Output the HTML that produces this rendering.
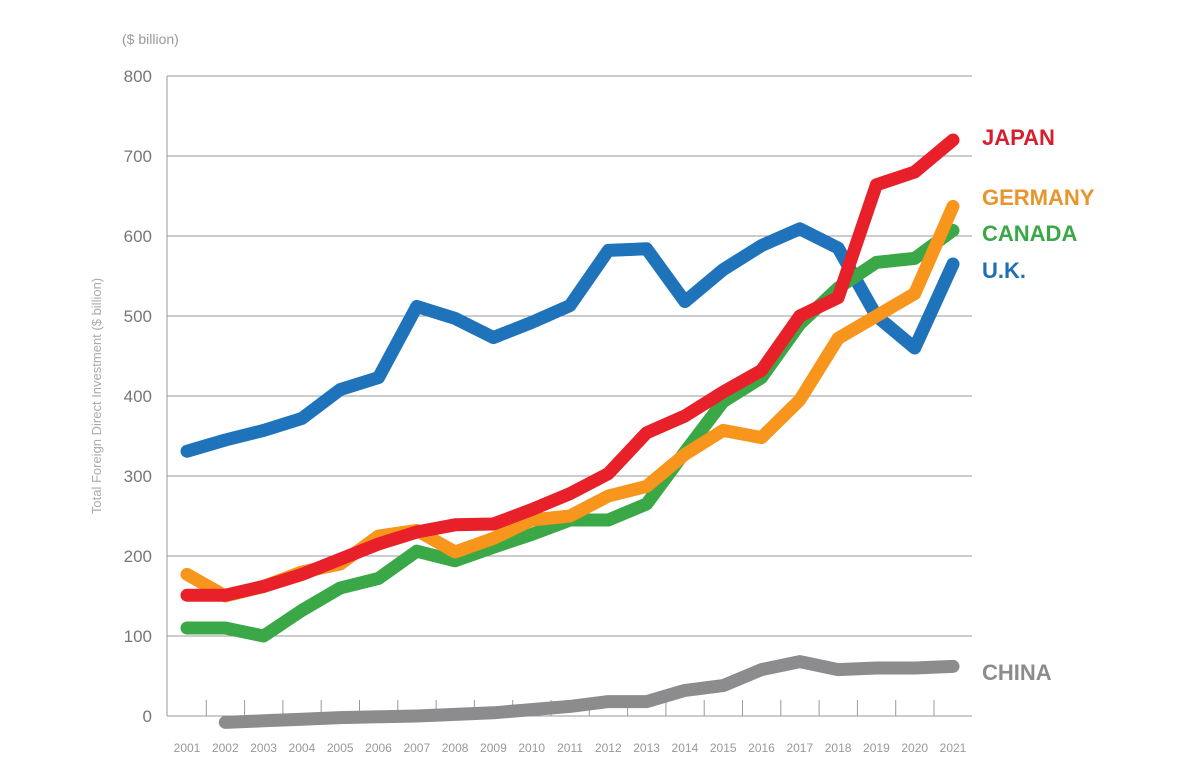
<!DOCTYPE html>
<html><head><meta charset="utf-8"><style>
body{margin:0;background:#fff;width:1200px;height:780px;overflow:hidden}
svg{display:block;font-family:"Liberation Sans",sans-serif}
</style></head><body>
<svg id="chart" width="1200" height="780">
<text x="122" y="44" font-size="14" fill="#999">($ billion)</text>
<text transform="translate(101,396) rotate(-90)" text-anchor="middle" font-size="13" fill="#aaa">Total Foreign Direct Investment ($ billion)</text>
<g id="grid"></g><g id="series"></g><g id="labels"></g>
</svg>
<script>
const years=[2001,2002,2003,2004,2005,2006,2007,2008,2009,2010,2011,2012,2013,2014,2015,2016,2017,2018,2019,2020,2021];
const yTicks=[0,100,200,300,400,500,600,700,800];
const uk=[331,345,357,372,408,423,512,497,473,492,513,582,584,518,558,588,609,585,500,460,565];
const canada=[110,110,100,132,160,172,206,194,211,227,245,245,265,330,393,423,490,535,567,572,607];
const germany=[177,150,162,180,190,225,232,205,222,245,250,275,287,327,357,348,395,472,500,528,637];
const japan=[151,151,162,177,196,215,230,239,240,258,278,303,354,375,405,432,500,523,664,680,720];
const china=[null,-8,-6,-4,-2,-1,0,2,4,8,12,18,18,32,38,58,68,58,60,60,62];
const NS="http://www.w3.org/2000/svg";
const x=i=>187+i*38.3;
const y=v=>716-0.8*v;
function mk(t,a,p){const e=document.createElementNS(NS,t);for(const k in a)e.setAttribute(k,a[k]);p.appendChild(e);return e;}
const grid=document.getElementById('grid');
yTicks.forEach(v=>{
 const l=mk('line',{x1:167,x2:972,y1:y(v),y2:y(v),stroke:'#999','stroke-width':1},grid);
 
 
 const t=mk('text',{x:152,y:y(v)+6,'text-anchor':'end','font-size':17,fill:'#777'},grid);
 t.textContent=v;
 
 
});
const ax=mk('line',{x1:167,x2:167,y1:y(800),y2:y(0),stroke:'#999','stroke-width':1},grid);


years.forEach((yr,i)=>{
 if(i>0){const tk=mk('line',{x1:x(i)-19,x2:x(i)-19,y1:700,y2:716,stroke:'#999','stroke-width':1},grid);
 
 }
 const t=mk('text',{x:x(i),y:752,'text-anchor':'middle','font-size':12,fill:'#999'},grid);
 t.textContent=yr;
 
 
});
const ser=document.getElementById('series');
function line(d,c,name){
 const pts=d.map((v,i)=>v===null?null:x(i)+','+y(v)).filter(p=>p);
 const p=mk('polyline',{points:pts.join(' '),fill:'none',stroke:c,'stroke-width':13,'stroke-linecap':'round','stroke-linejoin':'round'},ser);
 
 
}
line(uk,'#1f73ba','uk');line(canada,'#3aa846','canada');line(germany,'#f7951d','germany');line(japan,'#e8202a','japan');line(china,'#8c8c8f','china');
const lab=document.getElementById('labels');
[['JAPAN',145,'#d4202e'],['GERMANY',205,'#e8952e'],['CANADA',241,'#3aa846'],['U.K.',278,'#1f6fb5'],['CHINA',680,'#8c8c8f']].forEach(([s,yy,c])=>{
 const t=mk('text',{x:982,y:yy,'font-size':22,'font-weight':'bold',fill:c},lab);
 t.textContent=s;
 
 
});
</script>
</body></html>
